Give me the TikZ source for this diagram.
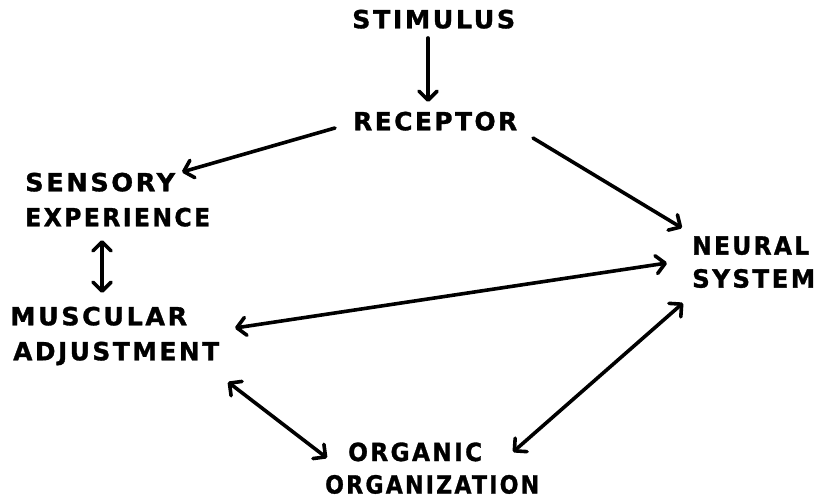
\documentclass[tikz,border=0pt]{standalone}
\usepackage{fontspec}
\usepackage{graphicx}
\setmainfont{DejaVu Sans}[LetterSpace=10,BoldFeatures={FakeBold=1.2}]
\usetikzlibrary{arrows.meta}
\newcommand\fitw[2]{\resizebox{#1pt}{\height}{#2}}
\tikzset{
  lbl/.style={inner sep=0pt, text depth=0pt, font=\bfseries\fontsize{25}{35}\selectfont},
  arr/.style={line width=3.6pt, line cap=round, -{Straight Barb[length=9pt,width=18pt,round]}},
  darr/.style={line width=3.6pt, line cap=round, {Straight Barb[length=9pt,width=18pt,round]}-{Straight Barb[length=9pt,width=18pt,round]}}
}
\begin{document}
\begin{tikzpicture}[x=1pt,y=-1pt]
\useasboundingbox (0,0) rectangle (830,498);
\node[lbl, anchor=west] (stim) at (352,19) {\fitw{163}{STIMULUS}};
\node[lbl, anchor=west] (rec) at (353,121) {\fitw{164}{RECEPTOR}};
\node[lbl, align=left, anchor=west, font=\bfseries\fontsize{25}{35}\selectfont] (sens) at (25,199.5) {\fitw{150}{SENSORY}\\\fitw{185}{EXPERIENCE}};
\node[lbl, align=left, anchor=west, font=\bfseries\fontsize{25}{35}\selectfont] (musc) at (10,333.5) {\fitw{177}{MUSCULAR}\\\hspace*{3pt}\fitw{206}{ADJUSTMENT}};
\node[lbl, align=left, anchor=west, font=\bfseries\fontsize{25}{33}\selectfont] (neur) at (692,262) {\fitw{117}{NEURAL}\\\fitw{123}{SYSTEM}};
\node[lbl, align=left, anchor=west, font=\bfseries\fontsize{25}{32.5}\selectfont] (org) at (325,468) {\hspace*{23pt}\fitw{134}{ORGANIC}\\\fitw{214}{ORGANIZATION}};

\draw[arr] ([shift={(76,19)}]stim.west) -- ([shift={(75,-19)}]rec.west);
\draw[arr] ([shift={(-18,7)}]rec.west) -- ([shift={(157,-27.5)}]sens.west);
\draw[arr] ([shift={(180,17)}]rec.west) -- ([shift={(-10,-34)}]neur.west);
\draw[darr] ([shift={(77,40.5)}]sens.west) -- ([shift={(92,-40.5)}]musc.west);
\draw[darr] ([shift={(225,-5.5)}]musc.west) -- ([shift={(-25,1)}]neur.west);
\draw[darr] ([shift={(218,48.5)}]musc.west) -- ([shift={(2,-10)}]org.west);
\draw[darr] ([shift={(-9,41)}]neur.west) -- ([shift={(188,-16)}]org.west);
\end{tikzpicture}
\end{document}
